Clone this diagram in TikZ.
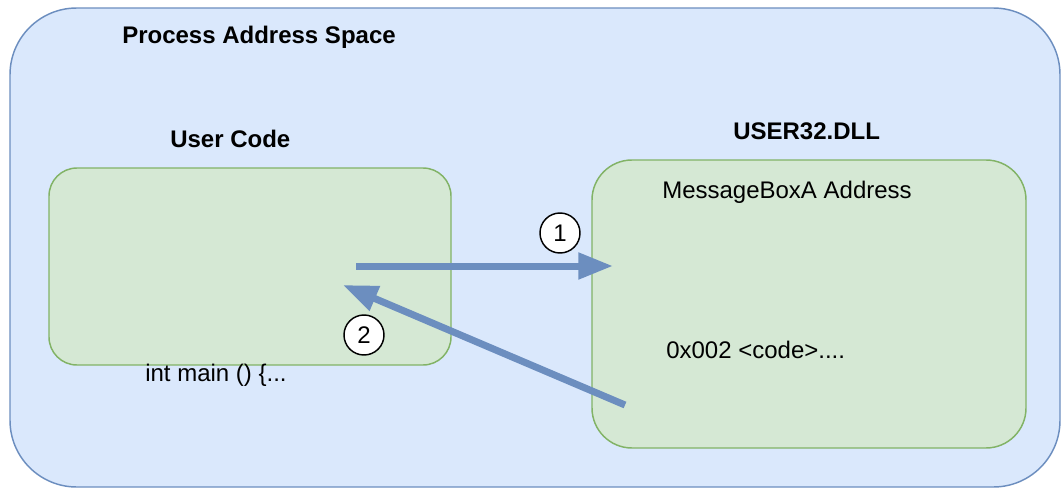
\documentclass[tikz,border=0pt]{standalone}
\usepackage{fontspec}
\setmainfont{Liberation Sans}
\usetikzlibrary{arrows.meta}
\definecolor{outerfill}{HTML}{DAE8FC}
\definecolor{outerline}{HTML}{6C8EBF}
\definecolor{greenfill}{HTML}{D5E8D4}
\definecolor{greenline}{HTML}{82B366}
\definecolor{arrowcol}{HTML}{6C8EBF}
\tikzset{
  outerbox/.style={draw=outerline, fill=outerfill, line width=1.1pt, rounded corners=50pt, inner sep=0pt},
  greenbox/.style={draw=greenline, fill=greenfill, line width=1.1pt, inner sep=0pt},
  lbl/.style={inner sep=0pt, anchor=base west, font=\fontsize{18}{21}\selectfont},
  blbl/.style={lbl, font=\fontsize{18}{21}\selectfont\bfseries},
  numcirc/.style={circle, draw=black, fill=white, line width=1.1pt, minimum size=30pt, inner sep=0pt, font=\fontsize{18}{21}\selectfont},
  bigarrow/.style={draw=arrowcol, line width=5.25pt, -{Triangle[length=26pt, width=19pt]}}
}
\begin{document}
\begin{tikzpicture}[x=0.75pt, y=-0.75pt]
\useasboundingbox (0,0) rectangle (1061,489);
\node[outerbox, minimum width=787.5pt, minimum height=359.25pt] (outer) at (535,247.5) {};
\node[greenbox, rounded corners=21pt, minimum width=301.5pt, minimum height=147.75pt] (user) at (250,266.5) {};
\node[greenbox, rounded corners=30pt, minimum width=325.5pt, minimum height=216pt] (dll) at (809,304) {};
\node[blbl] (title) at (122,43) {Process Address Space};
\node[blbl] (usertitle) at (170,147) {User Code};
\node[blbl] (dlltitle) at (733,139.5) {USER32.DLL};
\node[lbl] (mba) at (662,198) {MessageBoxA Address};
\node[lbl] (code) at (666,358) {0x002 <code>....};
\node[lbl] (main) at (145,381) {int main () \{...};
\coordinate (a1s) at (356,266);
\coordinate (a1e) at (613,266);
\coordinate (a2s) at (625,405);
\coordinate (a2e) at (343,285);
\draw[bigarrow] (a1s) -- (a1e);
\draw[bigarrow] (a2s) -- (a2e);
\node[numcirc] (n1) at (560,233) {1};
\node[numcirc] (n2) at (364,335) {2};
\end{tikzpicture}
\end{document}
